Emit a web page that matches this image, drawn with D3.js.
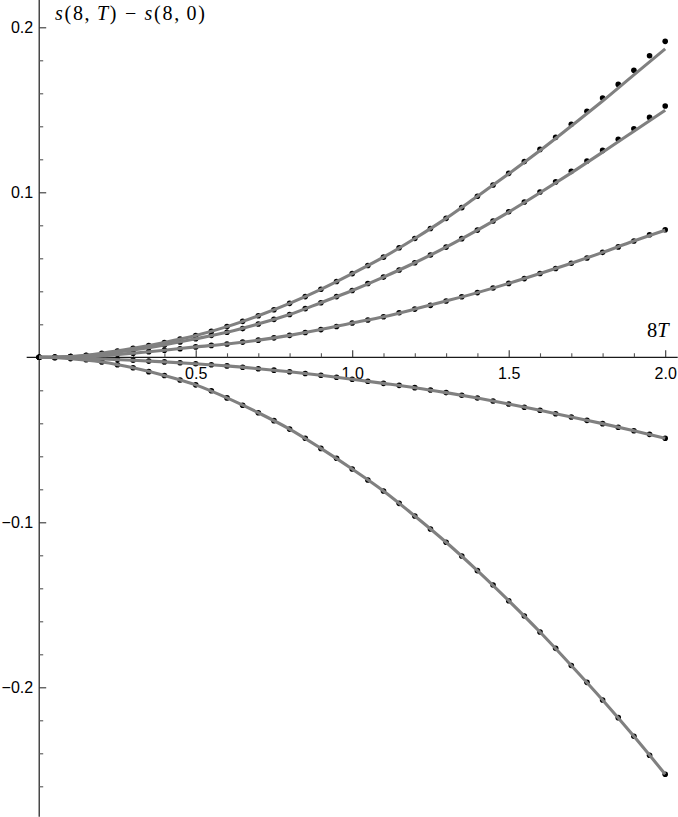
<!DOCTYPE html>
<html>
<head>
<meta charset="utf-8">
<script src="https://cdn.jsdelivr.net/npm/d3@7"></script>
<style>
  html, body { margin: 0; padding: 0; background: #fff; }
  svg { display: block; }
</style>
</head>
<body>
<div id="display"><svg width="678" height="817"></svg></div>
<script>
// sample points, 8T = 0 .. 2 in steps of 0.05
var tDots = [0, 0.05, 0.1, 0.15, 0.2, 0.25, 0.3, 0.35, 0.4, 0.45,
	     0.5, 0.55, 0.6, 0.65, 0.7, 0.75, 0.8, 0.85, 0.9, 0.95,
	     1.0, 1.05, 1.1, 1.15, 1.2, 1.25, 1.3, 1.35, 1.4, 1.45,
	     1.5, 1.55, 1.6, 1.65, 1.7, 1.75, 1.8, 1.85, 1.9, 1.95, 2.0];

var dotsA = [0, 0.0001, 0.0005, 0.0012, 0.0025, 0.0038, 0.0054, 0.0071, 0.0090, 0.0110,
	     0.0132, 0.0158, 0.0186, 0.0218, 0.0252, 0.0288, 0.0327, 0.0368, 0.0412, 0.0459,
	     0.0507, 0.0556, 0.0607, 0.0664, 0.0720, 0.0781, 0.0842, 0.0907, 0.0976, 0.1044,
	     0.1115, 0.1186, 0.1260, 0.1333, 0.1412, 0.1491, 0.1571, 0.1654, 0.1739, 0.1828, 0.1915];
var dotsB = [0, 0.0001, 0.0004, 0.0010, 0.0020, 0.0033, 0.0045, 0.0060, 0.0075, 0.0093,
	     0.0112, 0.0133, 0.0152, 0.0174, 0.0202, 0.0230, 0.0259, 0.0295, 0.0331, 0.0368,
	     0.0405, 0.0447, 0.0486, 0.0529, 0.0573, 0.0620, 0.0668, 0.0719, 0.0771, 0.0826,
	     0.0882, 0.0941, 0.1002, 0.1063, 0.1127, 0.1190, 0.1254, 0.1321, 0.1385, 0.1454, 0.1523];
var dotsC = [0, 0.0000, 0.0002, 0.0005, 0.0010, 0.0018, 0.0025, 0.0034, 0.0043, 0.0052,
	     0.0063, 0.0072, 0.0081, 0.0092, 0.0104, 0.0118, 0.0133, 0.0150, 0.0168, 0.0187,
	     0.0208, 0.0226, 0.0246, 0.0270, 0.0292, 0.0315, 0.0341, 0.0367, 0.0392, 0.0420,
	     0.0448, 0.0477, 0.0508, 0.0538, 0.0570, 0.0602, 0.0636, 0.0669, 0.0705, 0.0743, 0.0773];
var dotsD = [0, -0.0001, -0.0003, -0.0006, -0.0010, -0.0014, -0.0018, -0.0023, -0.0028, -0.0033,
	     -0.0039, -0.0045, -0.0052, -0.0060, -0.0069, -0.0078, -0.0088, -0.0098, -0.0109, -0.0121,
	     -0.0133, -0.0145, -0.0158, -0.0170, -0.0184, -0.0198, -0.0214, -0.0230, -0.0247, -0.0265,
	     -0.0283, -0.0303, -0.0321, -0.0342, -0.0362, -0.0382, -0.0402, -0.0424, -0.0445, -0.0467, -0.0491];
var dotsE = [0, -0.0002, -0.0008, -0.0015, -0.0028, -0.0045, -0.0063, -0.0087, -0.0110, -0.0138,
	     -0.0167, -0.0203, -0.0246, -0.0291, -0.0336, -0.0384, -0.0435, -0.0491, -0.0552, -0.0612,
	     -0.0677, -0.0744, -0.0810, -0.0885, -0.0962, -0.1041, -0.1121, -0.1204, -0.1293, -0.1380,
	     -0.1475, -0.1568, -0.1665, -0.1764, -0.1868, -0.1970, -0.2077, -0.2184, -0.2297, -0.2412, -0.2527];

// fitted curves (gray), 8T = 0 .. 2 in steps of 0.1
var tFit = [0, 0.1, 0.2, 0.3, 0.4, 0.5, 0.6, 0.7, 0.8, 0.9, 1.0,
	    1.1, 1.2, 1.3, 1.4, 1.5, 1.6, 1.7, 1.8, 1.9, 2.0];
var fitA = [0, 0.0005, 0.0025, 0.0054, 0.0090, 0.0132, 0.0186, 0.0252, 0.0327, 0.0412, 0.0507,
	    0.0607, 0.0720, 0.0842, 0.0976, 0.1112, 0.1253, 0.1402, 0.1553, 0.1712, 0.1869];
var fitB = [0, 0.0004, 0.0020, 0.0045, 0.0075, 0.0112, 0.0152, 0.0202, 0.0259, 0.0331, 0.0405,
	    0.0486, 0.0573, 0.0668, 0.0771, 0.0880, 0.0997, 0.1118, 0.1243, 0.1370, 0.1497];
var fitC = [0, 0.0002, 0.0010, 0.0025, 0.0043, 0.0063, 0.0081, 0.0104, 0.0133, 0.0168, 0.0208,
	    0.0246, 0.0292, 0.0341, 0.0392, 0.0448, 0.0508, 0.0570, 0.0636, 0.0705, 0.0770];
var fitD = [0, -0.0003, -0.0010, -0.0018, -0.0028, -0.0039, -0.0052, -0.0069, -0.0088, -0.0109, -0.0133,
	    -0.0158, -0.0184, -0.0214, -0.0247, -0.0283, -0.0321, -0.0362, -0.0402, -0.0445, -0.0491];
var fitE = [0, -0.0008, -0.0028, -0.0063, -0.0110, -0.0167, -0.0246, -0.0336, -0.0435, -0.0552, -0.0677,
	    -0.0810, -0.0962, -0.1121, -0.1293, -0.1475, -0.1665, -0.1868, -0.2077, -0.2297, -0.2527];

var xMajor = [0.5, 1.0, 1.5, 2.0];
var xMinor = [0.1, 0.2, 0.3, 0.4, 0.6, 0.7, 0.8, 0.9, 1.1, 1.2, 1.3, 1.4, 1.6, 1.7, 1.8, 1.9];
var yMajor = [-0.2, -0.1, 0.1, 0.2];
var yMinor = [-0.26, -0.24, -0.22, -0.18, -0.16, -0.14, -0.12, -0.08, -0.06, -0.04, -0.02,
	      0.02, 0.04, 0.06, 0.08, 0.12, 0.14, 0.16, 0.18];
var xExtent = [-0.04, 2.04];
var yExtent = [-0.2785, 0.2166];

var dotSeries = [dotsA, dotsB, dotsC, dotsD, dotsE];
var fitSeries = [fitA, fitB, fitC, fitD, fitE];

var canvas = d3.select("#display svg");
var x = d3.scaleLinear().domain([0, 2]).range([39.2, 665.2]);
var y = d3.scaleLinear().domain([0, 0.2]).range([357.3, 27.3]);

// axes lines
canvas.append("line")
    .attr("x1", x(xExtent[0])).attr("x2", x(xExtent[1]))
    .attr("y1", y(0)).attr("y2", y(0))
    .attr("stroke", "#1a1a1a").attr("stroke-width", 1.2);
canvas.append("line")
    .attr("x1", x(0)).attr("x2", x(0))
    .attr("y1", y(yExtent[1])).attr("y2", y(yExtent[0]))
    .attr("stroke", "#1a1a1a").attr("stroke-width", 1.2);

function styleAxis(g, col) {
    g.select(".domain").remove();
    g.selectAll(".tick line").attr("stroke", col).attr("stroke-width", 1.1);
    g.selectAll(".tick text")
	.attr("fill", "#000")
	.style("font-family", "'Liberation Sans', Arial, sans-serif")
	.style("font-size", "16px");
}

// minor ticks
canvas.append("g").attr("transform", "translate(0," + y(0) + ")")
    .call(d3.axisBottom(x).tickValues(xMinor).tickSize(-4).tickFormat(""))
    .call(styleAxis, "#555");
canvas.append("g").attr("transform", "translate(" + x(0) + ",0)")
    .call(d3.axisLeft(y).tickValues(yMinor).tickSize(-4).tickFormat(""))
    .call(styleAxis, "#555");

// major ticks + labels
canvas.append("g").attr("transform", "translate(0," + y(0) + ")")
    .call(d3.axisBottom(x).tickValues(xMajor).tickSize(-7).tickPadding(10)
	  .tickFormat(d3.format(".1f")))
    .call(styleAxis, "#333");
canvas.append("g").attr("transform", "translate(" + x(0) + ",0)")
    .call(d3.axisLeft(y).tickValues(yMajor).tickSize(-7).tickPadding(6)
	  .tickFormat(d3.format(".1f")))
    .call(styleAxis, "#333");

// data points
dotSeries.forEach(function(s) {
    canvas.append("g").selectAll("circle")
	.data(s).enter().append("circle")
	.attr("cx", function(d, i) { return x(tDots[i]); })
	.attr("cy", function(d) { return y(d); })
	.attr("r", 2.8).attr("fill", "#000");
});

// fitted curves over the points
var line = d3.line()
    .x(function(d, i) { return x(tFit[i]); })
    .y(function(d) { return y(d); })
    .curve(d3.curveMonotoneX);
fitSeries.forEach(function(s) {
    canvas.append("path").datum(s)
	.attr("d", line)
	.attr("fill", "none")
	.attr("stroke", "#808080")
	.attr("stroke-width", 3.1)
	.attr("stroke-linejoin", "round");
});

// axis titles
var serif = "'Liberation Serif', 'Times New Roman', serif";
var ylab = canvas.append("text")
    .attr("x", 55).attr("y", 20)
    .attr("textLength", 150).attr("lengthAdjust", "spacing")
    .style("font-family", serif).style("font-size", "20px").attr("fill", "#000");
ylab.append("tspan").text("s").style("font-style", "italic");
ylab.append("tspan").text("(8,\u2009");
ylab.append("tspan").text("T").style("font-style", "italic");
ylab.append("tspan").text(") \u2212 ");
ylab.append("tspan").text("s").style("font-style", "italic");
ylab.append("tspan").text("(8,\u20090)");

var xlab = canvas.append("text")
    .attr("x", 647).attr("y", 337)
    .style("font-family", serif).style("font-size", "20.5px").attr("fill", "#000");
xlab.append("tspan").text("8");
xlab.append("tspan").text("T").style("font-style", "italic");
</script>
</body>
</html>
